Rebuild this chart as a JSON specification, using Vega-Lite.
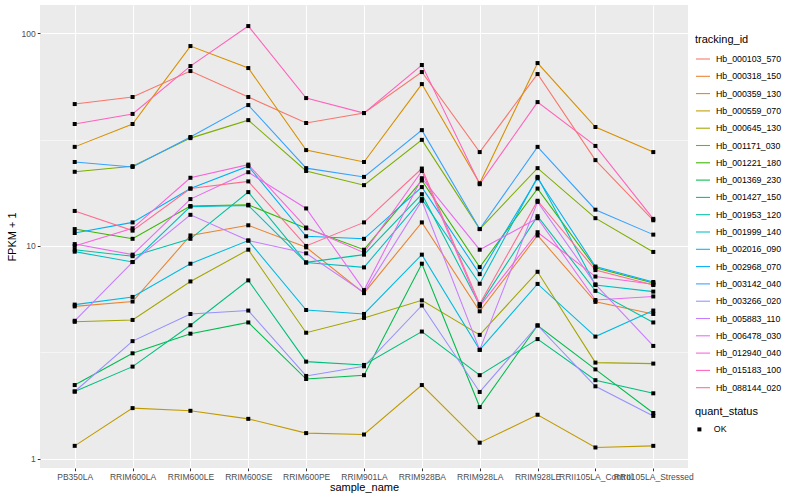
{
  "$schema": "https://vega.github.io/schema/vega-lite/v6.json",
  "width": 648,
  "height": 463,
  "autosize": {"type": "none"},
  "padding": {"left": 40, "top": 5, "right": 112, "bottom": 32},
  "background": "white",
  "config": {
    "font": "Liberation Sans",
    "view": {"fill": "#EBEBEB", "stroke": null},
    "axis": {
      "domain": false,
      "gridColor": "white",
      "labelColor": "#4D4D4D",
      "labelFontSize": 8.5,
      "tickColor": "#333333",
      "tickSize": 2.75,
      "titleFontSize": 11,
      "titleFontWeight": "normal",
      "titleColor": "black",
      "labelPadding": 2
    },
    "legend": {
      "titleFontSize": 11,
      "titleFontWeight": "normal",
      "titleColor": "black",
      "labelFontSize": 8.8,
      "labelColor": "black"
    }
  },
  "data": {"values": [
    {"tracking_id":"Hb_000103_570","sample_name":"PB350LA","FPKM_plus_1":46.4,"quant_status":"OK"},
    {"tracking_id":"Hb_000103_570","sample_name":"RRIM600LA","FPKM_plus_1":50.1,"quant_status":"OK"},
    {"tracking_id":"Hb_000103_570","sample_name":"RRIM600LE","FPKM_plus_1":66.3,"quant_status":"OK"},
    {"tracking_id":"Hb_000103_570","sample_name":"RRIM600SE","FPKM_plus_1":50.1,"quant_status":"OK"},
    {"tracking_id":"Hb_000103_570","sample_name":"RRIM600PE","FPKM_plus_1":37.8,"quant_status":"OK"},
    {"tracking_id":"Hb_000103_570","sample_name":"RRIM901LA","FPKM_plus_1":42.1,"quant_status":"OK"},
    {"tracking_id":"Hb_000103_570","sample_name":"RRIM928BA","FPKM_plus_1":65.6,"quant_status":"OK"},
    {"tracking_id":"Hb_000103_570","sample_name":"RRIM928LA","FPKM_plus_1":27.6,"quant_status":"OK"},
    {"tracking_id":"Hb_000103_570","sample_name":"RRIM928LE","FPKM_plus_1":64.2,"quant_status":"OK"},
    {"tracking_id":"Hb_000103_570","sample_name":"RRII105LA_Control","FPKM_plus_1":25.3,"quant_status":"OK"},
    {"tracking_id":"Hb_000103_570","sample_name":"RRII105LA_Stressed","FPKM_plus_1":13.2,"quant_status":"OK"},

    {"tracking_id":"Hb_000318_150","sample_name":"PB350LA","FPKM_plus_1":5.2,"quant_status":"OK"},
    {"tracking_id":"Hb_000318_150","sample_name":"RRIM600LA","FPKM_plus_1":5.48,"quant_status":"OK"},
    {"tracking_id":"Hb_000318_150","sample_name":"RRIM600LE","FPKM_plus_1":11.2,"quant_status":"OK"},
    {"tracking_id":"Hb_000318_150","sample_name":"RRIM600SE","FPKM_plus_1":12.5,"quant_status":"OK"},
    {"tracking_id":"Hb_000318_150","sample_name":"RRIM600PE","FPKM_plus_1":9.85,"quant_status":"OK"},
    {"tracking_id":"Hb_000318_150","sample_name":"RRIM901LA","FPKM_plus_1":6.0,"quant_status":"OK"},
    {"tracking_id":"Hb_000318_150","sample_name":"RRIM928BA","FPKM_plus_1":12.9,"quant_status":"OK"},
    {"tracking_id":"Hb_000318_150","sample_name":"RRIM928LA","FPKM_plus_1":4.93,"quant_status":"OK"},
    {"tracking_id":"Hb_000318_150","sample_name":"RRIM928LE","FPKM_plus_1":11.2,"quant_status":"OK"},
    {"tracking_id":"Hb_000318_150","sample_name":"RRII105LA_Control","FPKM_plus_1":5.46,"quant_status":"OK"},
    {"tracking_id":"Hb_000318_150","sample_name":"RRII105LA_Stressed","FPKM_plus_1":4.79,"quant_status":"OK"},

    {"tracking_id":"Hb_000359_130","sample_name":"PB350LA","FPKM_plus_1":29.2,"quant_status":"OK"},
    {"tracking_id":"Hb_000359_130","sample_name":"RRIM600LA","FPKM_plus_1":37.4,"quant_status":"OK"},
    {"tracking_id":"Hb_000359_130","sample_name":"RRIM600LE","FPKM_plus_1":86.9,"quant_status":"OK"},
    {"tracking_id":"Hb_000359_130","sample_name":"RRIM600SE","FPKM_plus_1":68.5,"quant_status":"OK"},
    {"tracking_id":"Hb_000359_130","sample_name":"RRIM600PE","FPKM_plus_1":28.2,"quant_status":"OK"},
    {"tracking_id":"Hb_000359_130","sample_name":"RRIM901LA","FPKM_plus_1":24.8,"quant_status":"OK"},
    {"tracking_id":"Hb_000359_130","sample_name":"RRIM928BA","FPKM_plus_1":57.6,"quant_status":"OK"},
    {"tracking_id":"Hb_000359_130","sample_name":"RRIM928LA","FPKM_plus_1":19.7,"quant_status":"OK"},
    {"tracking_id":"Hb_000359_130","sample_name":"RRIM928LE","FPKM_plus_1":72.3,"quant_status":"OK"},
    {"tracking_id":"Hb_000359_130","sample_name":"RRII105LA_Control","FPKM_plus_1":36.2,"quant_status":"OK"},
    {"tracking_id":"Hb_000359_130","sample_name":"RRII105LA_Stressed","FPKM_plus_1":27.6,"quant_status":"OK"},

    {"tracking_id":"Hb_000559_070","sample_name":"PB350LA","FPKM_plus_1":1.15,"quant_status":"OK"},
    {"tracking_id":"Hb_000559_070","sample_name":"RRIM600LA","FPKM_plus_1":1.73,"quant_status":"OK"},
    {"tracking_id":"Hb_000559_070","sample_name":"RRIM600LE","FPKM_plus_1":1.68,"quant_status":"OK"},
    {"tracking_id":"Hb_000559_070","sample_name":"RRIM600SE","FPKM_plus_1":1.54,"quant_status":"OK"},
    {"tracking_id":"Hb_000559_070","sample_name":"RRIM600PE","FPKM_plus_1":1.32,"quant_status":"OK"},
    {"tracking_id":"Hb_000559_070","sample_name":"RRIM901LA","FPKM_plus_1":1.30,"quant_status":"OK"},
    {"tracking_id":"Hb_000559_070","sample_name":"RRIM928BA","FPKM_plus_1":2.22,"quant_status":"OK"},
    {"tracking_id":"Hb_000559_070","sample_name":"RRIM928LA","FPKM_plus_1":1.19,"quant_status":"OK"},
    {"tracking_id":"Hb_000559_070","sample_name":"RRIM928LE","FPKM_plus_1":1.61,"quant_status":"OK"},
    {"tracking_id":"Hb_000559_070","sample_name":"RRII105LA_Control","FPKM_plus_1":1.13,"quant_status":"OK"},
    {"tracking_id":"Hb_000559_070","sample_name":"RRII105LA_Stressed","FPKM_plus_1":1.15,"quant_status":"OK"},

    {"tracking_id":"Hb_000645_130","sample_name":"PB350LA","FPKM_plus_1":4.4,"quant_status":"OK"},
    {"tracking_id":"Hb_000645_130","sample_name":"RRIM600LA","FPKM_plus_1":4.49,"quant_status":"OK"},
    {"tracking_id":"Hb_000645_130","sample_name":"RRIM600LE","FPKM_plus_1":6.81,"quant_status":"OK"},
    {"tracking_id":"Hb_000645_130","sample_name":"RRIM600SE","FPKM_plus_1":9.6,"quant_status":"OK"},
    {"tracking_id":"Hb_000645_130","sample_name":"RRIM600PE","FPKM_plus_1":3.91,"quant_status":"OK"},
    {"tracking_id":"Hb_000645_130","sample_name":"RRIM901LA","FPKM_plus_1":4.59,"quant_status":"OK"},
    {"tracking_id":"Hb_000645_130","sample_name":"RRIM928BA","FPKM_plus_1":5.55,"quant_status":"OK"},
    {"tracking_id":"Hb_000645_130","sample_name":"RRIM928LA","FPKM_plus_1":3.82,"quant_status":"OK"},
    {"tracking_id":"Hb_000645_130","sample_name":"RRIM928LE","FPKM_plus_1":7.56,"quant_status":"OK"},
    {"tracking_id":"Hb_000645_130","sample_name":"RRII105LA_Control","FPKM_plus_1":2.83,"quant_status":"OK"},
    {"tracking_id":"Hb_000645_130","sample_name":"RRII105LA_Stressed","FPKM_plus_1":2.80,"quant_status":"OK"},

    {"tracking_id":"Hb_001171_030","sample_name":"PB350LA","FPKM_plus_1":22.3,"quant_status":"OK"},
    {"tracking_id":"Hb_001171_030","sample_name":"RRIM600LA","FPKM_plus_1":23.7,"quant_status":"OK"},
    {"tracking_id":"Hb_001171_030","sample_name":"RRIM600LE","FPKM_plus_1":32.1,"quant_status":"OK"},
    {"tracking_id":"Hb_001171_030","sample_name":"RRIM600SE","FPKM_plus_1":39.0,"quant_status":"OK"},
    {"tracking_id":"Hb_001171_030","sample_name":"RRIM600PE","FPKM_plus_1":22.5,"quant_status":"OK"},
    {"tracking_id":"Hb_001171_030","sample_name":"RRIM901LA","FPKM_plus_1":19.3,"quant_status":"OK"},
    {"tracking_id":"Hb_001171_030","sample_name":"RRIM928BA","FPKM_plus_1":31.5,"quant_status":"OK"},
    {"tracking_id":"Hb_001171_030","sample_name":"RRIM928LA","FPKM_plus_1":12.0,"quant_status":"OK"},
    {"tracking_id":"Hb_001171_030","sample_name":"RRIM928LE","FPKM_plus_1":23.2,"quant_status":"OK"},
    {"tracking_id":"Hb_001171_030","sample_name":"RRII105LA_Control","FPKM_plus_1":13.5,"quant_status":"OK"},
    {"tracking_id":"Hb_001171_030","sample_name":"RRII105LA_Stressed","FPKM_plus_1":9.37,"quant_status":"OK"},

    {"tracking_id":"Hb_001221_180","sample_name":"PB350LA","FPKM_plus_1":12.0,"quant_status":"OK"},
    {"tracking_id":"Hb_001221_180","sample_name":"RRIM600LA","FPKM_plus_1":10.8,"quant_status":"OK"},
    {"tracking_id":"Hb_001221_180","sample_name":"RRIM600LE","FPKM_plus_1":15.4,"quant_status":"OK"},
    {"tracking_id":"Hb_001221_180","sample_name":"RRIM600SE","FPKM_plus_1":15.6,"quant_status":"OK"},
    {"tracking_id":"Hb_001221_180","sample_name":"RRIM600PE","FPKM_plus_1":12.1,"quant_status":"OK"},
    {"tracking_id":"Hb_001221_180","sample_name":"RRIM901LA","FPKM_plus_1":9.6,"quant_status":"OK"},
    {"tracking_id":"Hb_001221_180","sample_name":"RRIM928BA","FPKM_plus_1":20.3,"quant_status":"OK"},
    {"tracking_id":"Hb_001221_180","sample_name":"RRIM928LA","FPKM_plus_1":7.95,"quant_status":"OK"},
    {"tracking_id":"Hb_001221_180","sample_name":"RRIM928LE","FPKM_plus_1":18.6,"quant_status":"OK"},
    {"tracking_id":"Hb_001221_180","sample_name":"RRII105LA_Control","FPKM_plus_1":7.9,"quant_status":"OK"},
    {"tracking_id":"Hb_001221_180","sample_name":"RRII105LA_Stressed","FPKM_plus_1":6.7,"quant_status":"OK"},

    {"tracking_id":"Hb_001369_230","sample_name":"PB350LA","FPKM_plus_1":2.22,"quant_status":"OK"},
    {"tracking_id":"Hb_001369_230","sample_name":"RRIM600LA","FPKM_plus_1":3.13,"quant_status":"OK"},
    {"tracking_id":"Hb_001369_230","sample_name":"RRIM600LE","FPKM_plus_1":3.87,"quant_status":"OK"},
    {"tracking_id":"Hb_001369_230","sample_name":"RRIM600SE","FPKM_plus_1":4.37,"quant_status":"OK"},
    {"tracking_id":"Hb_001369_230","sample_name":"RRIM600PE","FPKM_plus_1":2.37,"quant_status":"OK"},
    {"tracking_id":"Hb_001369_230","sample_name":"RRIM901LA","FPKM_plus_1":2.47,"quant_status":"OK"},
    {"tracking_id":"Hb_001369_230","sample_name":"RRIM928BA","FPKM_plus_1":8.25,"quant_status":"OK"},
    {"tracking_id":"Hb_001369_230","sample_name":"RRIM928LA","FPKM_plus_1":1.75,"quant_status":"OK"},
    {"tracking_id":"Hb_001369_230","sample_name":"RRIM928LE","FPKM_plus_1":4.23,"quant_status":"OK"},
    {"tracking_id":"Hb_001369_230","sample_name":"RRII105LA_Control","FPKM_plus_1":2.63,"quant_status":"OK"},
    {"tracking_id":"Hb_001369_230","sample_name":"RRII105LA_Stressed","FPKM_plus_1":1.64,"quant_status":"OK"},

    {"tracking_id":"Hb_001427_150","sample_name":"PB350LA","FPKM_plus_1":2.07,"quant_status":"OK"},
    {"tracking_id":"Hb_001427_150","sample_name":"RRIM600LA","FPKM_plus_1":2.71,"quant_status":"OK"},
    {"tracking_id":"Hb_001427_150","sample_name":"RRIM600LE","FPKM_plus_1":4.24,"quant_status":"OK"},
    {"tracking_id":"Hb_001427_150","sample_name":"RRIM600SE","FPKM_plus_1":6.89,"quant_status":"OK"},
    {"tracking_id":"Hb_001427_150","sample_name":"RRIM600PE","FPKM_plus_1":2.86,"quant_status":"OK"},
    {"tracking_id":"Hb_001427_150","sample_name":"RRIM901LA","FPKM_plus_1":2.76,"quant_status":"OK"},
    {"tracking_id":"Hb_001427_150","sample_name":"RRIM928BA","FPKM_plus_1":3.96,"quant_status":"OK"},
    {"tracking_id":"Hb_001427_150","sample_name":"RRIM928LA","FPKM_plus_1":2.47,"quant_status":"OK"},
    {"tracking_id":"Hb_001427_150","sample_name":"RRIM928LE","FPKM_plus_1":3.65,"quant_status":"OK"},
    {"tracking_id":"Hb_001427_150","sample_name":"RRII105LA_Control","FPKM_plus_1":2.34,"quant_status":"OK"},
    {"tracking_id":"Hb_001427_150","sample_name":"RRII105LA_Stressed","FPKM_plus_1":2.03,"quant_status":"OK"},

    {"tracking_id":"Hb_001953_120","sample_name":"PB350LA","FPKM_plus_1":9.6,"quant_status":"OK"},
    {"tracking_id":"Hb_001953_120","sample_name":"RRIM600LA","FPKM_plus_1":8.95,"quant_status":"OK"},
    {"tracking_id":"Hb_001953_120","sample_name":"RRIM600LE","FPKM_plus_1":10.8,"quant_status":"OK"},
    {"tracking_id":"Hb_001953_120","sample_name":"RRIM600SE","FPKM_plus_1":17.9,"quant_status":"OK"},
    {"tracking_id":"Hb_001953_120","sample_name":"RRIM600PE","FPKM_plus_1":8.37,"quant_status":"OK"},
    {"tracking_id":"Hb_001953_120","sample_name":"RRIM901LA","FPKM_plus_1":9.1,"quant_status":"OK"},
    {"tracking_id":"Hb_001953_120","sample_name":"RRIM928BA","FPKM_plus_1":17.5,"quant_status":"OK"},
    {"tracking_id":"Hb_001953_120","sample_name":"RRIM928LA","FPKM_plus_1":5.27,"quant_status":"OK"},
    {"tracking_id":"Hb_001953_120","sample_name":"RRIM928LE","FPKM_plus_1":13.8,"quant_status":"OK"},
    {"tracking_id":"Hb_001953_120","sample_name":"RRII105LA_Control","FPKM_plus_1":6.15,"quant_status":"OK"},
    {"tracking_id":"Hb_001953_120","sample_name":"RRII105LA_Stressed","FPKM_plus_1":4.37,"quant_status":"OK"},

    {"tracking_id":"Hb_001999_140","sample_name":"PB350LA","FPKM_plus_1":9.4,"quant_status":"OK"},
    {"tracking_id":"Hb_001999_140","sample_name":"RRIM600LA","FPKM_plus_1":8.4,"quant_status":"OK"},
    {"tracking_id":"Hb_001999_140","sample_name":"RRIM600LE","FPKM_plus_1":15.3,"quant_status":"OK"},
    {"tracking_id":"Hb_001999_140","sample_name":"RRIM600SE","FPKM_plus_1":15.5,"quant_status":"OK"},
    {"tracking_id":"Hb_001999_140","sample_name":"RRIM600PE","FPKM_plus_1":8.35,"quant_status":"OK"},
    {"tracking_id":"Hb_001999_140","sample_name":"RRIM901LA","FPKM_plus_1":7.93,"quant_status":"OK"},
    {"tracking_id":"Hb_001999_140","sample_name":"RRIM928BA","FPKM_plus_1":16.6,"quant_status":"OK"},
    {"tracking_id":"Hb_001999_140","sample_name":"RRIM928LA","FPKM_plus_1":6.64,"quant_status":"OK"},
    {"tracking_id":"Hb_001999_140","sample_name":"RRIM928LE","FPKM_plus_1":21.1,"quant_status":"OK"},
    {"tracking_id":"Hb_001999_140","sample_name":"RRII105LA_Control","FPKM_plus_1":6.55,"quant_status":"OK"},
    {"tracking_id":"Hb_001999_140","sample_name":"RRII105LA_Stressed","FPKM_plus_1":6.1,"quant_status":"OK"},

    {"tracking_id":"Hb_002016_090","sample_name":"PB350LA","FPKM_plus_1":5.3,"quant_status":"OK"},
    {"tracking_id":"Hb_002016_090","sample_name":"RRIM600LA","FPKM_plus_1":5.76,"quant_status":"OK"},
    {"tracking_id":"Hb_002016_090","sample_name":"RRIM600LE","FPKM_plus_1":8.25,"quant_status":"OK"},
    {"tracking_id":"Hb_002016_090","sample_name":"RRIM600SE","FPKM_plus_1":10.6,"quant_status":"OK"},
    {"tracking_id":"Hb_002016_090","sample_name":"RRIM600PE","FPKM_plus_1":5.0,"quant_status":"OK"},
    {"tracking_id":"Hb_002016_090","sample_name":"RRIM901LA","FPKM_plus_1":4.79,"quant_status":"OK"},
    {"tracking_id":"Hb_002016_090","sample_name":"RRIM928BA","FPKM_plus_1":9.1,"quant_status":"OK"},
    {"tracking_id":"Hb_002016_090","sample_name":"RRIM928LA","FPKM_plus_1":3.25,"quant_status":"OK"},
    {"tracking_id":"Hb_002016_090","sample_name":"RRIM928LE","FPKM_plus_1":6.63,"quant_status":"OK"},
    {"tracking_id":"Hb_002016_090","sample_name":"RRII105LA_Control","FPKM_plus_1":3.75,"quant_status":"OK"},
    {"tracking_id":"Hb_002016_090","sample_name":"RRII105LA_Stressed","FPKM_plus_1":4.97,"quant_status":"OK"},

    {"tracking_id":"Hb_002968_070","sample_name":"PB350LA","FPKM_plus_1":11.5,"quant_status":"OK"},
    {"tracking_id":"Hb_002968_070","sample_name":"RRIM600LA","FPKM_plus_1":12.9,"quant_status":"OK"},
    {"tracking_id":"Hb_002968_070","sample_name":"RRIM600LE","FPKM_plus_1":18.6,"quant_status":"OK"},
    {"tracking_id":"Hb_002968_070","sample_name":"RRIM600SE","FPKM_plus_1":23.7,"quant_status":"OK"},
    {"tracking_id":"Hb_002968_070","sample_name":"RRIM600PE","FPKM_plus_1":11.1,"quant_status":"OK"},
    {"tracking_id":"Hb_002968_070","sample_name":"RRIM901LA","FPKM_plus_1":10.8,"quant_status":"OK"},
    {"tracking_id":"Hb_002968_070","sample_name":"RRIM928BA","FPKM_plus_1":18.9,"quant_status":"OK"},
    {"tracking_id":"Hb_002968_070","sample_name":"RRIM928LA","FPKM_plus_1":7.37,"quant_status":"OK"},
    {"tracking_id":"Hb_002968_070","sample_name":"RRIM928LE","FPKM_plus_1":20.8,"quant_status":"OK"},
    {"tracking_id":"Hb_002968_070","sample_name":"RRII105LA_Control","FPKM_plus_1":8.0,"quant_status":"OK"},
    {"tracking_id":"Hb_002968_070","sample_name":"RRII105LA_Stressed","FPKM_plus_1":6.77,"quant_status":"OK"},

    {"tracking_id":"Hb_003142_040","sample_name":"PB350LA","FPKM_plus_1":24.8,"quant_status":"OK"},
    {"tracking_id":"Hb_003142_040","sample_name":"RRIM600LA","FPKM_plus_1":23.5,"quant_status":"OK"},
    {"tracking_id":"Hb_003142_040","sample_name":"RRIM600LE","FPKM_plus_1":32.5,"quant_status":"OK"},
    {"tracking_id":"Hb_003142_040","sample_name":"RRIM600SE","FPKM_plus_1":45.9,"quant_status":"OK"},
    {"tracking_id":"Hb_003142_040","sample_name":"RRIM600PE","FPKM_plus_1":23.2,"quant_status":"OK"},
    {"tracking_id":"Hb_003142_040","sample_name":"RRIM901LA","FPKM_plus_1":21.1,"quant_status":"OK"},
    {"tracking_id":"Hb_003142_040","sample_name":"RRIM928BA","FPKM_plus_1":35.0,"quant_status":"OK"},
    {"tracking_id":"Hb_003142_040","sample_name":"RRIM928LA","FPKM_plus_1":12.0,"quant_status":"OK"},
    {"tracking_id":"Hb_003142_040","sample_name":"RRIM928LE","FPKM_plus_1":29.2,"quant_status":"OK"},
    {"tracking_id":"Hb_003142_040","sample_name":"RRII105LA_Control","FPKM_plus_1":14.8,"quant_status":"OK"},
    {"tracking_id":"Hb_003142_040","sample_name":"RRII105LA_Stressed","FPKM_plus_1":11.3,"quant_status":"OK"},

    {"tracking_id":"Hb_003266_020","sample_name":"PB350LA","FPKM_plus_1":2.07,"quant_status":"OK"},
    {"tracking_id":"Hb_003266_020","sample_name":"RRIM600LA","FPKM_plus_1":3.57,"quant_status":"OK"},
    {"tracking_id":"Hb_003266_020","sample_name":"RRIM600LE","FPKM_plus_1":4.79,"quant_status":"OK"},
    {"tracking_id":"Hb_003266_020","sample_name":"RRIM600SE","FPKM_plus_1":4.97,"quant_status":"OK"},
    {"tracking_id":"Hb_003266_020","sample_name":"RRIM600PE","FPKM_plus_1":2.45,"quant_status":"OK"},
    {"tracking_id":"Hb_003266_020","sample_name":"RRIM901LA","FPKM_plus_1":2.72,"quant_status":"OK"},
    {"tracking_id":"Hb_003266_020","sample_name":"RRIM928BA","FPKM_plus_1":5.25,"quant_status":"OK"},
    {"tracking_id":"Hb_003266_020","sample_name":"RRIM928LA","FPKM_plus_1":2.06,"quant_status":"OK"},
    {"tracking_id":"Hb_003266_020","sample_name":"RRIM928LE","FPKM_plus_1":4.23,"quant_status":"OK"},
    {"tracking_id":"Hb_003266_020","sample_name":"RRII105LA_Control","FPKM_plus_1":2.19,"quant_status":"OK"},
    {"tracking_id":"Hb_003266_020","sample_name":"RRII105LA_Stressed","FPKM_plus_1":1.59,"quant_status":"OK"},

    {"tracking_id":"Hb_005883_110","sample_name":"PB350LA","FPKM_plus_1":4.45,"quant_status":"OK"},
    {"tracking_id":"Hb_005883_110","sample_name":"RRIM600LA","FPKM_plus_1":8.4,"quant_status":"OK"},
    {"tracking_id":"Hb_005883_110","sample_name":"RRIM600LE","FPKM_plus_1":14.0,"quant_status":"OK"},
    {"tracking_id":"Hb_005883_110","sample_name":"RRIM600SE","FPKM_plus_1":10.6,"quant_status":"OK"},
    {"tracking_id":"Hb_005883_110","sample_name":"RRIM600PE","FPKM_plus_1":9.23,"quant_status":"OK"},
    {"tracking_id":"Hb_005883_110","sample_name":"RRIM901LA","FPKM_plus_1":6.05,"quant_status":"OK"},
    {"tracking_id":"Hb_005883_110","sample_name":"RRIM928BA","FPKM_plus_1":16.3,"quant_status":"OK"},
    {"tracking_id":"Hb_005883_110","sample_name":"RRIM928LA","FPKM_plus_1":3.25,"quant_status":"OK"},
    {"tracking_id":"Hb_005883_110","sample_name":"RRIM928LE","FPKM_plus_1":16.1,"quant_status":"OK"},
    {"tracking_id":"Hb_005883_110","sample_name":"RRII105LA_Control","FPKM_plus_1":6.6,"quant_status":"OK"},
    {"tracking_id":"Hb_005883_110","sample_name":"RRII105LA_Stressed","FPKM_plus_1":3.39,"quant_status":"OK"},

    {"tracking_id":"Hb_006478_030","sample_name":"PB350LA","FPKM_plus_1":10.2,"quant_status":"OK"},
    {"tracking_id":"Hb_006478_030","sample_name":"RRIM600LA","FPKM_plus_1":9.1,"quant_status":"OK"},
    {"tracking_id":"Hb_006478_030","sample_name":"RRIM600LE","FPKM_plus_1":16.6,"quant_status":"OK"},
    {"tracking_id":"Hb_006478_030","sample_name":"RRIM600SE","FPKM_plus_1":22.2,"quant_status":"OK"},
    {"tracking_id":"Hb_006478_030","sample_name":"RRIM600PE","FPKM_plus_1":15.0,"quant_status":"OK"},
    {"tracking_id":"Hb_006478_030","sample_name":"RRIM901LA","FPKM_plus_1":6.2,"quant_status":"OK"},
    {"tracking_id":"Hb_006478_030","sample_name":"RRIM928BA","FPKM_plus_1":20.8,"quant_status":"OK"},
    {"tracking_id":"Hb_006478_030","sample_name":"RRIM928LA","FPKM_plus_1":9.6,"quant_status":"OK"},
    {"tracking_id":"Hb_006478_030","sample_name":"RRIM928LE","FPKM_plus_1":13.5,"quant_status":"OK"},
    {"tracking_id":"Hb_006478_030","sample_name":"RRII105LA_Control","FPKM_plus_1":5.57,"quant_status":"OK"},
    {"tracking_id":"Hb_006478_030","sample_name":"RRII105LA_Stressed","FPKM_plus_1":5.79,"quant_status":"OK"},

    {"tracking_id":"Hb_012940_040","sample_name":"PB350LA","FPKM_plus_1":10.0,"quant_status":"OK"},
    {"tracking_id":"Hb_012940_040","sample_name":"RRIM600LA","FPKM_plus_1":12.1,"quant_status":"OK"},
    {"tracking_id":"Hb_012940_040","sample_name":"RRIM600LE","FPKM_plus_1":20.9,"quant_status":"OK"},
    {"tracking_id":"Hb_012940_040","sample_name":"RRIM600SE","FPKM_plus_1":24.1,"quant_status":"OK"},
    {"tracking_id":"Hb_012940_040","sample_name":"RRIM600PE","FPKM_plus_1":12.2,"quant_status":"OK"},
    {"tracking_id":"Hb_012940_040","sample_name":"RRIM901LA","FPKM_plus_1":9.3,"quant_status":"OK"},
    {"tracking_id":"Hb_012940_040","sample_name":"RRIM928BA","FPKM_plus_1":22.5,"quant_status":"OK"},
    {"tracking_id":"Hb_012940_040","sample_name":"RRIM928LA","FPKM_plus_1":5.2,"quant_status":"OK"},
    {"tracking_id":"Hb_012940_040","sample_name":"RRIM928LE","FPKM_plus_1":11.6,"quant_status":"OK"},
    {"tracking_id":"Hb_012940_040","sample_name":"RRII105LA_Control","FPKM_plus_1":7.18,"quant_status":"OK"},
    {"tracking_id":"Hb_012940_040","sample_name":"RRII105LA_Stressed","FPKM_plus_1":6.6,"quant_status":"OK"},

    {"tracking_id":"Hb_015183_100","sample_name":"PB350LA","FPKM_plus_1":37.4,"quant_status":"OK"},
    {"tracking_id":"Hb_015183_100","sample_name":"RRIM600LA","FPKM_plus_1":41.7,"quant_status":"OK"},
    {"tracking_id":"Hb_015183_100","sample_name":"RRIM600LE","FPKM_plus_1":70.0,"quant_status":"OK"},
    {"tracking_id":"Hb_015183_100","sample_name":"RRIM600SE","FPKM_plus_1":107.9,"quant_status":"OK"},
    {"tracking_id":"Hb_015183_100","sample_name":"RRIM600PE","FPKM_plus_1":49.5,"quant_status":"OK"},
    {"tracking_id":"Hb_015183_100","sample_name":"RRIM901LA","FPKM_plus_1":42.1,"quant_status":"OK"},
    {"tracking_id":"Hb_015183_100","sample_name":"RRIM928BA","FPKM_plus_1":70.8,"quant_status":"OK"},
    {"tracking_id":"Hb_015183_100","sample_name":"RRIM928LA","FPKM_plus_1":19.5,"quant_status":"OK"},
    {"tracking_id":"Hb_015183_100","sample_name":"RRIM928LE","FPKM_plus_1":47.4,"quant_status":"OK"},
    {"tracking_id":"Hb_015183_100","sample_name":"RRII105LA_Control","FPKM_plus_1":29.5,"quant_status":"OK"},
    {"tracking_id":"Hb_015183_100","sample_name":"RRII105LA_Stressed","FPKM_plus_1":13.4,"quant_status":"OK"},

    {"tracking_id":"Hb_088144_020","sample_name":"PB350LA","FPKM_plus_1":14.6,"quant_status":"OK"},
    {"tracking_id":"Hb_088144_020","sample_name":"RRIM600LA","FPKM_plus_1":11.8,"quant_status":"OK"},
    {"tracking_id":"Hb_088144_020","sample_name":"RRIM600LE","FPKM_plus_1":18.6,"quant_status":"OK"},
    {"tracking_id":"Hb_088144_020","sample_name":"RRIM600SE","FPKM_plus_1":20.1,"quant_status":"OK"},
    {"tracking_id":"Hb_088144_020","sample_name":"RRIM600PE","FPKM_plus_1":10.0,"quant_status":"OK"},
    {"tracking_id":"Hb_088144_020","sample_name":"RRIM901LA","FPKM_plus_1":12.9,"quant_status":"OK"},
    {"tracking_id":"Hb_088144_020","sample_name":"RRIM928BA","FPKM_plus_1":23.1,"quant_status":"OK"},
    {"tracking_id":"Hb_088144_020","sample_name":"RRIM928LA","FPKM_plus_1":5.33,"quant_status":"OK"},
    {"tracking_id":"Hb_088144_020","sample_name":"RRIM928LE","FPKM_plus_1":16.3,"quant_status":"OK"},
    {"tracking_id":"Hb_088144_020","sample_name":"RRII105LA_Control","FPKM_plus_1":7.7,"quant_status":"OK"},
    {"tracking_id":"Hb_088144_020","sample_name":"RRII105LA_Stressed","FPKM_plus_1":6.55,"quant_status":"OK"}
  ]},
  "encoding": {
    "x": {
      "field": "sample_name",
      "type": "ordinal",
      "sort": ["PB350LA","RRIM600LA","RRIM600LE","RRIM600SE","RRIM600PE","RRIM901LA","RRIM928BA","RRIM928LA","RRIM928LE","RRII105LA_Control","RRII105LA_Stressed"],
      "scale": {"type": "point", "padding": 0.6},
      "axis": {
        "title": "sample_name",
        "labelAngle": 0,
        "labelOverlap": false,
        "grid": true,
        "gridWidth": 1.07,
        "titlePadding": 0
      }
    },
    "y": {
      "field": "FPKM_plus_1",
      "type": "quantitative",
      "scale": {"type": "log", "domain": [0.905, 135.5], "nice": false, "zero": false},
      "axis": {
        "title": "FPKM + 1",
        "values": [1, 3.1623, 10, 31.623, 100],
        "labelExpr": "datum.value == 1 || datum.value == 10 || datum.value == 100 ? datum.value : ''",
        "grid": true,
        "gridWidth": {"condition": {"test": "datum.value == 1 || datum.value == 10 || datum.value == 100", "value": 1.07}, "value": 0.53},
        "tickOpacity": {"condition": {"test": "datum.value == 1 || datum.value == 10 || datum.value == 100", "value": 1}, "value": 0},
        "titlePadding": 4
      }
    }
  },
  "layer": [
    {
      "mark": {"type": "line", "strokeWidth": 1.07},
      "encoding": {
        "color": {
          "field": "tracking_id",
          "type": "nominal",
          "scale": {
            "domain": ["Hb_000103_570","Hb_000318_150","Hb_000359_130","Hb_000559_070","Hb_000645_130","Hb_001171_030","Hb_001221_180","Hb_001369_230","Hb_001427_150","Hb_001953_120","Hb_001999_140","Hb_002016_090","Hb_002968_070","Hb_003142_040","Hb_003266_020","Hb_005883_110","Hb_006478_030","Hb_012940_040","Hb_015183_100","Hb_088144_020"],
            "range": ["#F8766D","#EA8331","#D89000","#C09B00","#A3A500","#7CAE00","#39B600","#00BB4E","#00BF7D","#00C1A3","#00BFC4","#00BAE0","#00B0F6","#35A2FF","#9590FF","#C77CFF","#E76BF3","#FA62DB","#FF62BC","#FF6C91"]
          },
          "legend": {
            "title": "tracking_id",
            "orient": "none",
            "legendX": 655,
            "legendY": 29,
            "symbolType": "stroke",
            "symbolSize": 196,
            "symbolStrokeWidth": 1.07,
            "rowPadding": 4.3,
            "labelOffset": 5,
            "titlePadding": 6
          }
        },
        "order": {"value": null}
      }
    },
    {
      "mark": {"type": "point", "filled": true, "color": "black", "opacity": 1, "size": 16},
      "encoding": {
        "shape": {
          "field": "quant_status",
          "type": "nominal",
          "scale": {"range": ["square"]},
          "legend": {
            "title": "quant_status",
            "orient": "none",
            "legendX": 655,
            "legendY": 401,
            "symbolFillColor": "black",
            "symbolStrokeColor": "black",
            "symbolSize": 16,
            "labelOffset": 10,
            "titlePadding": 8
          }
        }
      }
    }
  ]
}
